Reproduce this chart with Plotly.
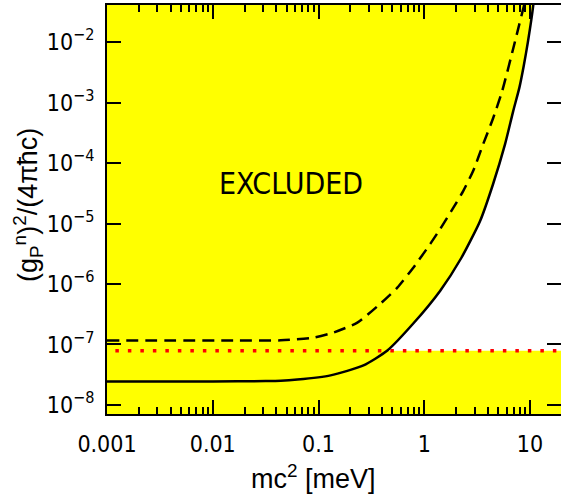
import numpy as np
import plotly.graph_objects as go

# ---- data ----
solid_m = [0.001, 0.01, 0.0316, 0.0439, 0.0631, 0.130, 0.266, 0.448, 0.787, 1.416,
           2.239, 3.373, 4.477, 5.808, 6.918, 7.943, 8.710, 9.550, 10.72, 10.84]
solid_g = [2.45e-8, 2.45e-8, 2.48e-8, 2.51e-8, 2.63e-8, 3.09e-8, 4.51e-8, 7.96e-8, 2.22e-7, 7.76e-7,
           2.69e-6, 1.10e-5, 4.50e-5, 2.05e-4, 7.08e-4, 1.78e-3, 3.98e-3, 1.00e-2, 3.98e-2, 5.0e-2]

dashed_m = [0.001, 0.0158, 0.0439, 0.0897, 0.139, 0.233, 0.385, 0.556, 0.787, 1.140,
            1.416, 1.879, 2.333, 2.897, 3.606, 4.477, 5.445, 7.211, 8.913]
dashed_g = [1.16e-7, 1.16e-7, 1.17e-7, 1.30e-7, 1.58e-7, 2.30e-7, 4.73e-7, 8.71e-7, 1.86e-6, 4.61e-6,
            8.15e-6, 1.81e-5, 3.44e-5, 7.36e-5, 2.05e-4, 5.50e-4, 1.53e-3, 1.02e-2, 4.47e-2]

red_level = 7.9e-8
red_m = [0.0012, 30.0]

x_tickvals = [0.001, 0.01, 0.1, 1, 10]
x_ticktext = ["0.001", "0.01", "0.1", "1", "10"]
y_tickvals = [1e-8, 1e-7, 1e-6, 1e-5, 1e-4, 1e-3, 1e-2]
y_ticktext = ["10<sup>\u22128</sup>", "10<sup>\u22127</sup>", "10<sup>\u22126</sup>",
              "10<sup>\u22125</sup>", "10<sup>\u22124</sup>", "10<sup>\u22123</sup>",
              "10<sup>\u22122</sup>"]
x_minor = [k * 10.0 ** e for e in range(-3, 2) for k in range(2, 10)]

YELLOW = "#ffff00"
FAM = "Liberation Sans Narrow, DejaVu Sans Condensed, Liberation Sans, Arial"
TICKFONT = dict(family=FAM, size=23, color="black")
TITLEFONT = dict(family="Liberation Sans, Arial", size=27, color="black")

# ---- white (allowed) region: right of the solid curve, above the red line ----
sm = np.array(solid_m)
sg = np.array(solid_g)
lm, lg = np.log10(sm), np.log10(sg)
x_cross = 10 ** np.interp(np.log10(red_level), lg, lm)
keep = sg > red_level
wx = [x_cross] + list(sm[keep]) + [1e3, 1e3]
wy = [red_level] + list(sg[keep]) + [1.0, red_level]

fig = go.Figure()
fig.add_trace(go.Scatter(x=wx, y=wy, fill="toself", fillcolor="white",
                         line=dict(width=0, color="white", shape="spline", smoothing=0.6),
                         mode="lines", hoverinfo="skip"))
fig.add_trace(go.Scatter(x=red_m, y=[red_level, red_level], mode="lines",
                         line=dict(color="#ff0000", width=3.5, dash="3.5px,9px")))
fig.add_trace(go.Scatter(x=dashed_m, y=dashed_g, mode="lines",
                         line=dict(color="black", width=2.5, dash="12px,7px",
                                   shape="spline", smoothing=0.6)))
fig.add_trace(go.Scatter(x=solid_m, y=solid_g, mode="lines",
                         line=dict(color="black", width=2.5, shape="spline", smoothing=0.6)))

fig.add_annotation(text="EXCLUDED", xref="paper", yref="paper",
                   x=(291 - 107) / 454, y=(414 - 184) / 409, showarrow=False,
                   xanchor="center", yanchor="middle",
                   font=dict(family=FAM, size=30, color="black"))
fig.add_annotation(text="mc<sup>2</sup> [meV]", xref="paper", yref="paper",
                   x=(313 - 107) / 454, y=(414 - 477) / 409, showarrow=False,
                   xanchor="center", yanchor="middle", font=TITLEFONT)
fig.add_annotation(text="(g<sub>P</sub><sup>n</sup>)<sup>2</sup>/(4\u03c0\u0127c)",
                   xref="paper", yref="paper", textangle=-90,
                   x=(28 - 107) / 454, y=(414 - 205) / 409, showarrow=False,
                   xanchor="center", yanchor="middle", font=TITLEFONT)

fig.update_xaxes(type="log", range=[-3, 1.293], tickmode="array", tickvals=x_tickvals,
                 ticktext=x_ticktext, ticks="inside", ticklen=14, tickwidth=1.5, tickcolor="black",
                 showline=True, linecolor="black", linewidth=2, mirror="ticks",
                 showgrid=False, zeroline=False, tickfont=TICKFONT, ticklabelstandoff=8,
                 automargin=False,
                 minor=dict(tickmode="array", tickvals=x_minor, ticks="inside", ticklen=7,
                            tickwidth=1.5, tickcolor="black", showgrid=False))
fig.update_yaxes(type="log", range=[-8.149, -1.388], tickmode="array", tickvals=y_tickvals,
                 ticktext=y_ticktext, ticks="inside", ticklen=14, tickwidth=1.5, tickcolor="black",
                 showline=True, linecolor="black", linewidth=2, mirror="ticks",
                 showgrid=False, zeroline=False, tickfont=TICKFONT, ticklabelstandoff=6,
                 automargin=False)

fig.update_layout(width=561, height=494, margin=dict(l=107, r=0, t=5, b=80),
                  plot_bgcolor=YELLOW, paper_bgcolor="white", showlegend=False)

fig.write_html("out.html", config={"displayModeBar": False},
               post_script="document.body.style.margin='0';document.body.style.overflow='hidden';")
